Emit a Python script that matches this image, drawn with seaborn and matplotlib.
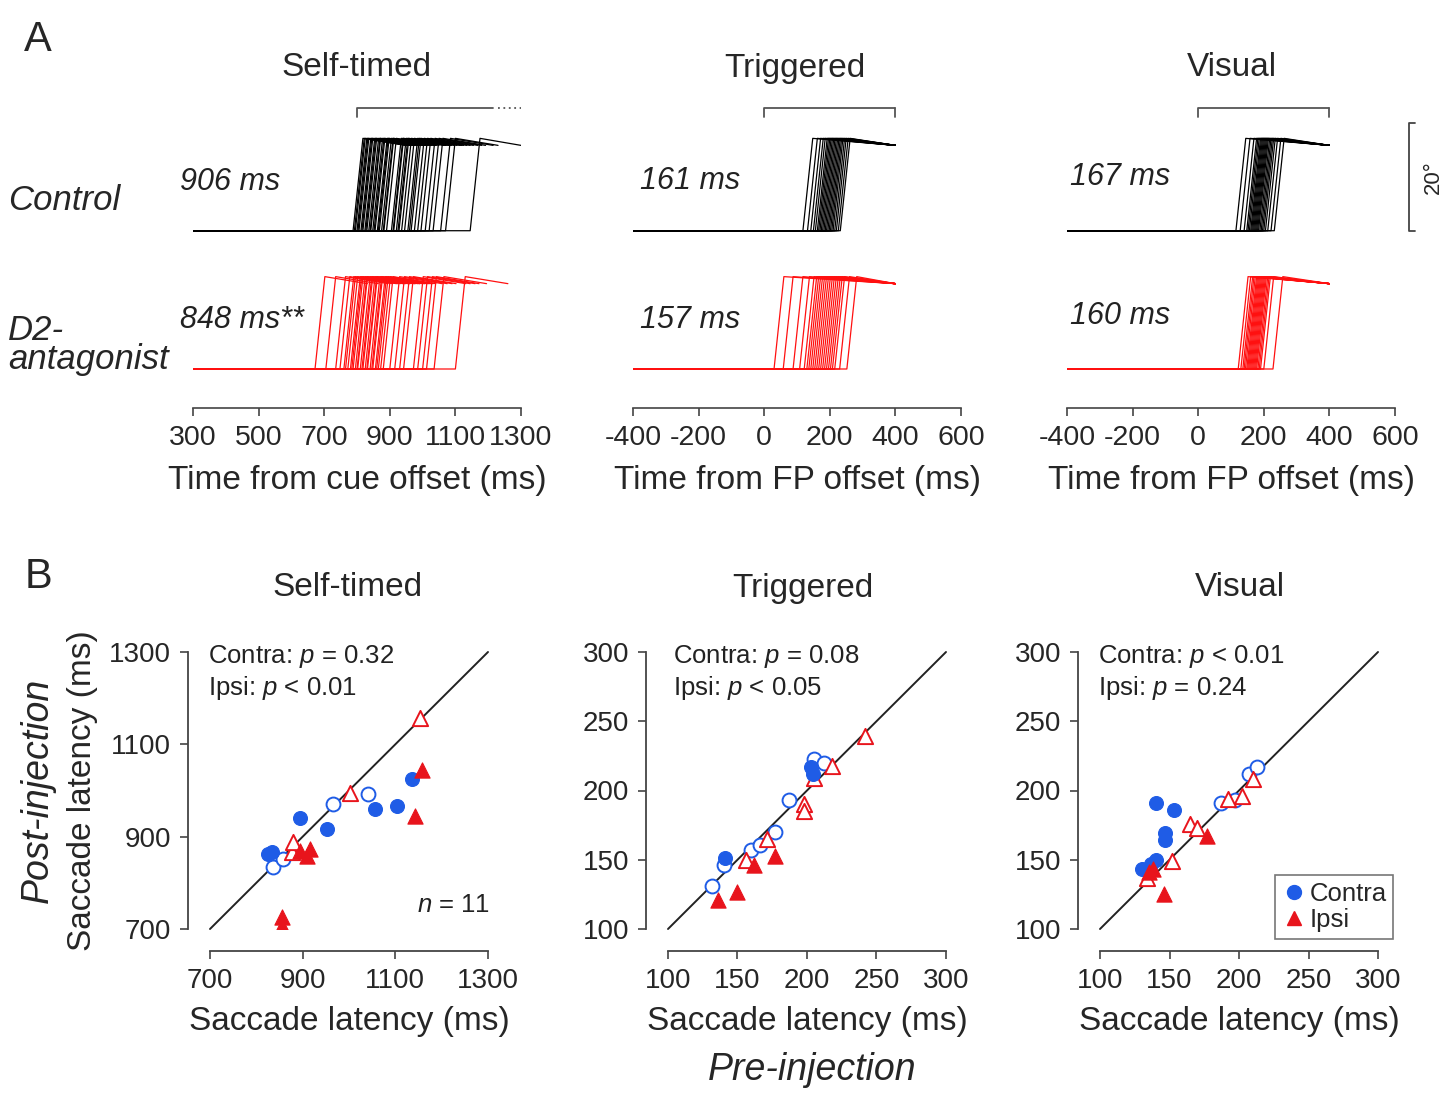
import matplotlib
matplotlib.use("Agg")
import matplotlib.pyplot as plt
import pandas as pd
import seaborn as sns
from matplotlib.lines import Line2D

# ---------------- panel A: single-trial saccade onsets (ms) ----------------
st_ctrl_lat = [788, 792, 795, 800, 803, 806, 812, 815, 818, 824, 827, 830, 836, 840,
               842, 848, 852, 855, 862, 865, 868, 875, 880, 882, 890, 905, 910, 912,
               920, 925, 928, 936, 945, 955, 960, 965, 975, 985, 995, 1008, 1020, 1032,
               1055, 1070, 1145]
st_d2_lat = [672, 705, 735, 748, 760, 765, 772, 780, 784, 788, 795, 800, 802, 810, 815,
             818, 825, 830, 832, 840, 845, 848, 856, 860, 865, 872, 880, 900, 915, 930,
             942, 972, 985, 1000, 1012, 1035, 1100]
tr_ctrl_lat = [118, 132, 142, 150, 156, 162, 166, 170, 174, 178, 182, 186, 190, 194,
               198, 202, 206, 210, 215, 220, 226, 232]
tr_d2_lat = [30, 58, 88, 108, 122, 130, 136, 142, 148, 154, 160, 166, 172, 178, 184,
             190, 196, 202, 208, 215, 230, 252]
vi_ctrl_lat = [115, 128, 140, 148, 152, 156, 160, 163, 166, 169, 172, 175, 178, 181,
               184, 188, 192, 196, 200, 205, 212, 222, 232]
vi_d2_lat = [122, 130, 136, 140, 144, 148, 151, 154, 157, 160, 163, 166, 169, 172,
             175, 178, 182, 186, 190, 200, 228]

a_titles = ["Self-timed", "Triggered", "Visual"]
a_xlabels = ["Time from cue offset (ms)", "Time from FP offset (ms)", "Time from FP offset (ms)"]
a_xlims = [(300, 1300), (-400, 600), (-400, 600)]
a_ctrl_txt = ["906 ms", "161 ms", "167 ms"]
a_d2_txt = ["848 ms**", "157 ms", "160 ms"]
a_window = [(800, 1215), (0, 400), (0, 400)]

# ---------------- panel B: session means (pre vs post injection, ms) ----------------
st_con_pre = [826, 833, 837, 858, 894, 952, 966, 1042, 1056, 1103, 1135]
st_con_post = [862, 866, 834, 851, 941, 916, 970, 992, 959, 966, 1025]
st_con_sig = [1, 1, 0, 0, 1, 1, 0, 0, 1, 1, 1]
st_ips_pre = [855, 855, 877, 880, 895, 909, 916, 1002, 1143, 1153, 1157]
st_ips_post = [726, 707, 866, 888, 868, 858, 873, 995, 945, 1158, 1045]
st_ips_sig = [1, 1, 0, 0, 1, 1, 1, 0, 1, 0, 1]

tr_con_pre = [132, 140, 141, 160, 166, 177, 187, 203, 204, 205, 212]
tr_con_post = [131, 146, 151, 157, 161, 170, 193, 217, 212, 223, 220]
tr_con_sig = [0, 0, 1, 0, 0, 0, 0, 1, 1, 0, 0]
tr_ips_pre = [136, 150, 156, 162, 171, 177, 198, 198, 205, 218, 242]
tr_ips_post = [121, 127, 150, 146, 165, 153, 190, 185, 209, 218, 239]
tr_ips_sig = [1, 1, 0, 1, 0, 1, 0, 0, 0, 0, 0]

vi_con_pre = [130, 137, 140, 140, 147, 147, 153, 187, 197, 207, 213]
vi_con_post = [143, 147, 150, 191, 164, 169, 186, 191, 193, 212, 217]
vi_con_sig = [1, 1, 1, 1, 1, 1, 1, 0, 0, 0, 0]
vi_ips_pre = [134, 135, 138, 146, 152, 165, 170, 177, 192, 202, 210]
vi_ips_post = [137, 141, 143, 125, 149, 176, 173, 167, 194, 196, 208]
vi_ips_sig = [0, 1, 1, 1, 0, 0, 0, 1, 0, 0, 0]

b_lims = [(700, 1300), (100, 300), (100, 300)]
b_ticks = [[700, 900, 1100, 1300], [100, 150, 200, 250, 300], [100, 150, 200, 250, 300]]
b_stats = [("0.32", "= ", "0.01", "< "), ("0.08", "= ", "0.05", "< "), ("0.01", "< ", "0.24", "= ")]

BLUE = "#1f5ce6"
RED = "#e8141c"

sns.set_style("ticks")
plt.rcParams["font.family"] = ["Liberation Sans", "DejaVu Sans"]
plt.rcParams["mathtext.fontset"] = "custom"
plt.rcParams["mathtext.it"] = "Liberation Sans:italic"
plt.rcParams["mathtext.rm"] = "Liberation Sans"
plt.rcParams["axes.unicode_minus"] = False

W, H = 1456, 1094
fig = plt.figure(figsize=(W / 100, H / 100), dpi=100)


def fx(px):
    return px / W


def fy(py):
    return 1 - py / H


AMP, OVER, RISE = 15.8, 1.3, 30
CTRL_BASE = 25.6


def traces(lats, t0, t_end, hold, base):
    rows = []
    for i, lat in enumerate(lats):
        stop = min(lat + hold, t_end)
        for t, y in zip([t0, lat, lat + RISE, stop],
                        [base, base, base + AMP + OVER, base + AMP]):
            rows.append({"trial": i, "t": t, "pos": y})
    return pd.DataFrame(rows)


# ---------------- panel A ----------------
a_left = [193, 633, 1067]
a_ctrl = [st_ctrl_lat, tr_ctrl_lat, vi_ctrl_lat]
a_d2 = [st_d2_lat, tr_d2_lat, vi_d2_lat]
a_hold = [160, 1000, 1000]
a_end = [1300, 400, 400]
txt_pos = [(180, 182, 320), (640, 181, 320), (1070, 177, 316)]
title_x = [357, 795, 1232]
for k in range(3):
    ax = fig.add_axes([fx(a_left[k]), fy(408), 328 / W, 308 / H])
    x0 = a_xlims[k][0]
    sns.lineplot(data=traces(a_ctrl[k], x0, a_end[k], a_hold[k], CTRL_BASE), x="t", y="pos",
                 units="trial", estimator=None, sort=False, color="black", lw=0.9, ax=ax)
    sns.lineplot(data=traces(a_d2[k], x0, a_end[k], a_hold[k], 0), x="t", y="pos",
                 units="trial", estimator=None, sort=False, color="#ff1010", lw=0.9, ax=ax)
    ax.set_xlim(*a_xlims[k])
    ax.set_ylim(-7.22, 49.8)
    ax.set_xticks(range(a_xlims[k][0], a_xlims[k][1] + 1, 200))
    ax.set_yticks([])
    ax.set_ylabel("")
    ax.set_xlabel(a_xlabels[k], fontsize=24, labelpad=10)
    ax.tick_params(axis="x", labelsize=20.5, length=6, width=1.2, color="#444", pad=6)
    sns.despine(ax=ax, left=True)
    ax.spines["bottom"].set_color("#444")
    ax.spines["bottom"].set_linewidth(1.2)
    w0, w1 = a_window[k]
    ax.plot([w0, w0, w1], [46.6, 48.3, 48.3], color="#555", lw=1.3, clip_on=False)
    if k == 0:
        ax.plot([w1 + 15, 1300], [48.3, 48.3], color="#555", lw=1.3, ls=(0, (1, 2)), clip_on=False)
    else:
        ax.plot([w1, w1], [48.3, 46.6], color="#555", lw=1.3, clip_on=False)
    tx, ty1, ty2 = txt_pos[k]
    fig.text(fx(tx), fy(ty1), a_ctrl_txt[k], fontsize=22, style="italic", va="center", color="#222")
    fig.text(fx(tx), fy(ty2), a_d2_txt[k], fontsize=22, style="italic", va="center", color="#222")
    fig.text(fx(title_x[k]), fy(68), a_titles[k], fontsize=24, ha="center", va="center")
    if k == 2:
        ax.plot([661, 643, 643, 661], [CTRL_BASE, CTRL_BASE, CTRL_BASE + 20, CTRL_BASE + 20],
                color="#444", lw=1.3, clip_on=False)
        ax.text(716, CTRL_BASE + 10, "20°", rotation=90, fontsize=16, ha="center", va="center")

fig.text(fx(38), fy(40), "A", fontsize=30, ha="center", va="center")
fig.text(fx(8), fy(200), "Control", fontsize=25, style="italic", va="center")
fig.text(fx(8), fy(345), "D2-\nantagonist", fontsize=25, style="italic", va="center",
         linespacing=0.87)

# ---------------- panel B ----------------
b_left = [210, 668, 1100]
b_data = [
    (st_con_pre, st_con_post, st_con_sig, st_ips_pre, st_ips_post, st_ips_sig),
    (tr_con_pre, tr_con_post, tr_con_sig, tr_ips_pre, tr_ips_post, tr_ips_sig),
    (vi_con_pre, vi_con_post, vi_con_sig, vi_ips_pre, vi_ips_post, vi_ips_sig),
]
b_title_x = [348, 803, 1240]
b_txt_x = [208, 673, 1098]
for k in range(3):
    ax = fig.add_axes([fx(b_left[k]), fy(929), 278 / W, 277 / H])
    lo, hi = b_lims[k]
    ax.plot([lo, hi], [lo, hi], color="#222", lw=1.4, zorder=1, clip_on=False)
    cpre, cpost, csig, ipre, ipost, isig = b_data[k]
    con = pd.DataFrame({"pre": cpre, "post": cpost, "sig": csig})
    ips = pd.DataFrame({"pre": ipre, "post": ipost, "sig": isig})
    for df, col, mk, s in [(con, BLUE, "o", 100), (ips, RED, "^", 120)]:
        op = df[df.sig == 0]
        fl = df[df.sig == 1]
        sns.scatterplot(data=op, x="pre", y="post", marker=mk, s=s, color="white",
                        edgecolor=col, linewidth=1.4, zorder=3, ax=ax)
        sns.scatterplot(data=fl, x="pre", y="post", marker=mk, s=s, color=col,
                        edgecolor=col, linewidth=0.8, zorder=4, ax=ax)
    ax.set_xlim(lo, hi)
    ax.set_ylim(lo, hi)
    ax.set_xticks(b_ticks[k])
    ax.set_yticks(b_ticks[k])
    ax.tick_params(labelsize=20, length=6, width=1.2, color="#444", pad=6)
    sns.despine(ax=ax, offset=16)
    for sp in ["left", "bottom"]:
        ax.spines[sp].set_color("#444")
        ax.spines[sp].set_linewidth(1.3)
    ax.set_xlabel("Saccade latency (ms)", fontsize=24, labelpad=9)
    if k == 0:
        ax.set_ylabel("Saccade latency (ms)", fontsize=24, labelpad=8)
    else:
        ax.set_ylabel("")
    fig.text(fx(b_title_x[k]), fy(588), a_titles[k], fontsize=24, ha="center", va="center")
    cp, cop, ip, iop = b_stats[k]
    fig.text(fx(b_txt_x[k]), fy(657), "Contra: $p$ " + cop + cp, fontsize=18.5, va="center", color="#222")
    fig.text(fx(b_txt_x[k]), fy(688), "Ipsi: $p$ " + iop + ip, fontsize=18.5, va="center", color="#222")
    if k == 2:
        handles = [Line2D([], [], marker="o", ls="none", color=BLUE, markersize=10),
                   Line2D([], [], marker="^", ls="none", color=RED, markersize=10)]
        leg = ax.legend(handles, ["Contra", "Ipsi"], loc="lower left", bbox_to_anchor=(0.63, -0.035),
                        fontsize=18.5, frameon=True, fancybox=False, edgecolor="#555",
                        handletextpad=0.1, borderpad=0.25, labelspacing=0.1, handlelength=1.0,
                        borderaxespad=0)
        leg.get_frame().set_linewidth(1.2)
    elif ax.get_legend() is not None:
        ax.get_legend().remove()

fig.text(fx(490), fy(905), "$n$ = 11", fontsize=18.5, ha="right", va="center", color="#222")
fig.text(fx(38), fy(577), "B", fontsize=30, ha="center", va="center")
fig.text(fx(38), fy(790), "Post-injection", fontsize=27, style="italic", rotation=90,
         ha="center", va="center")
fig.text(fx(812), fy(1070), "Pre-injection", fontsize=27, style="italic", ha="center", va="center")

fig.savefig("out.png", dpi=100)
